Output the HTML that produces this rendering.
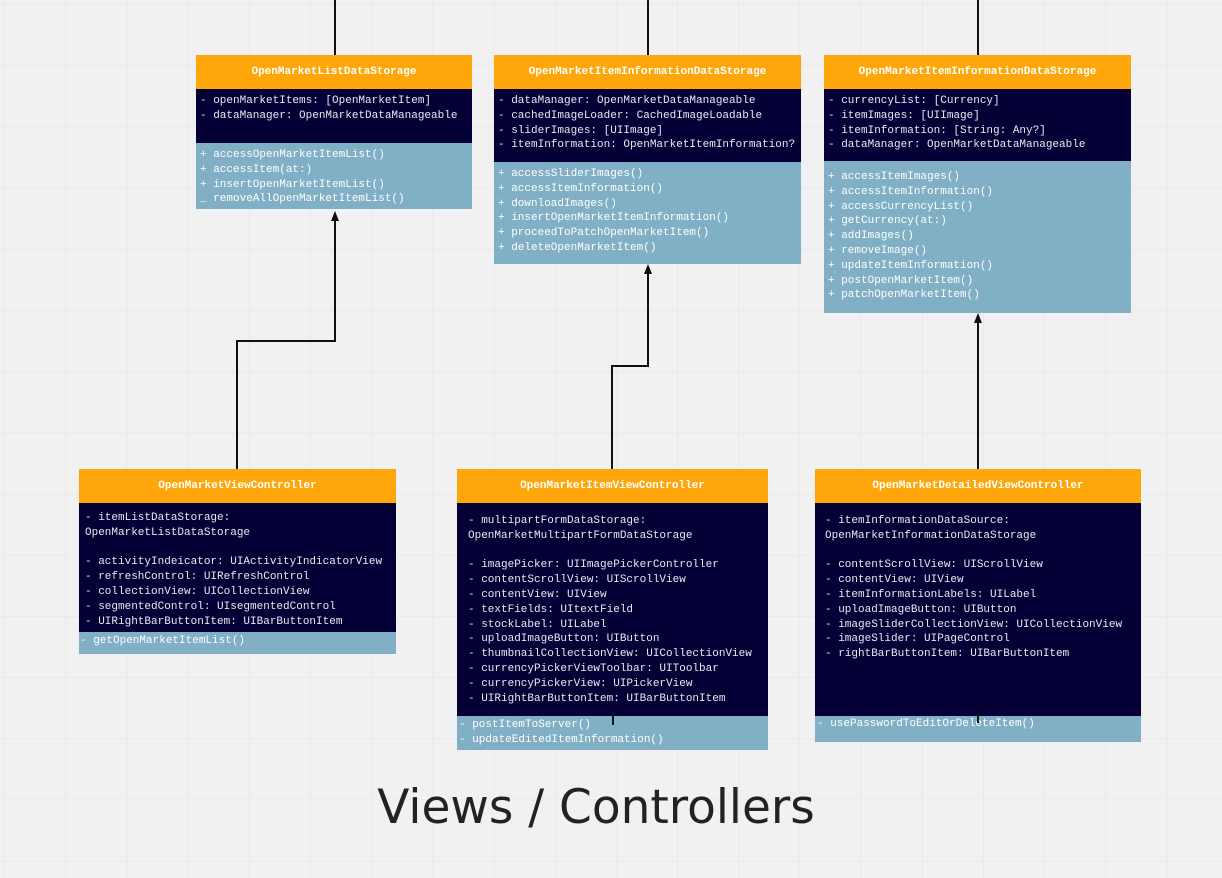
<!DOCTYPE html>
<html><head><meta charset="utf-8"><style>
body{margin:0;width:1222px;height:878px;overflow:hidden;background:#f1f1f1;
background-image:linear-gradient(to right,#e9e9e9 1px,transparent 1px),linear-gradient(to bottom,#e9e9e9 1px,transparent 1px);
background-size:61.2px 61.2px;background-position:4px 4px;position:relative;font-family:"Liberation Mono",monospace;}
.b{position:absolute;}
.h{background:#ffa60b;color:#fff;font-weight:bold;font-size:11px;text-align:center;height:34px;line-height:34px;}
.d{background:#040036;color:#e8e8f0;font-size:11px;line-height:14.8px;padding:5px 4px;box-sizing:border-box;white-space:pre;}
.l{background:#80afc6;color:#fff;font-size:11px;line-height:14.8px;padding:5px 4px;box-sizing:border-box;white-space:pre;}
.ln{position:absolute;background:#111;}
.ar{position:absolute;width:0;height:0;border-left:4px solid transparent;border-right:4px solid transparent;border-bottom:10px solid #111;}
.t{position:absolute;left:0;width:1192px;text-align:center;top:780px;font-family:"DejaVu Sans","Liberation Sans",sans-serif;font-size:47px;color:#222;}
</style></head><body>
<div class="ln" style="left:334px;top:0;width:2px;height:55px"></div>
<div class="ln" style="left:647px;top:0;width:2px;height:55px"></div>
<div class="ln" style="left:977px;top:0;width:2px;height:55px"></div>

<div class="ln" style="left:236px;top:340px;width:2px;height:129px"></div>
<div class="ln" style="left:236px;top:340px;width:100px;height:2px"></div>
<div class="ln" style="left:334px;top:220px;width:2px;height:122px"></div>
<div class="ar" style="left:331px;top:211px"></div>

<div class="ln" style="left:611px;top:365px;width:2px;height:104px"></div>
<div class="ln" style="left:611px;top:365px;width:38px;height:2px"></div>
<div class="ln" style="left:647px;top:272px;width:2px;height:95px"></div>
<div class="ar" style="left:644px;top:264px"></div>

<div class="ln" style="left:977px;top:322px;width:2px;height:147px"></div>
<div class="ar" style="left:974px;top:313px"></div>

<div class="b" style="left:196px;top:55px;width:276px">
<div class="h">OpenMarketListDataStorage</div>
<div class="d" style="height:54px">- openMarketItems: [OpenMarketItem]
- dataManager: OpenMarketDataManageable</div>
<div class="l" style="height:66px">+ accessOpenMarketItemList()
+ accessItem(at:)
+ insertOpenMarketItemList()
_ removeAllOpenMarketItemList()</div>
</div>

<div class="b" style="left:494px;top:55px;width:307px">
<div class="h">OpenMarketItemInformationDataStorage</div>
<div class="d" style="height:73px">- dataManager: OpenMarketDataManageable
- cachedImageLoader: CachedImageLoadable
- sliderImages: [UIImage]
- itemInformation: OpenMarketItemInformation?</div>
<div class="l" style="height:102px">+ accessSliderImages()
+ accessItemInformation()
+ downloadImages()
+ insertOpenMarketItemInformation()
+ proceedToPatchOpenMarketItem()
+ deleteOpenMarketItem()</div>
</div>

<div class="b" style="left:824px;top:55px;width:307px">
<div class="h">OpenMarketItemInformationDataStorage</div>
<div class="d" style="height:72px">- currencyList: [Currency]
- itemImages: [UIImage]
- itemInformation: [String: Any?]
- dataManager: OpenMarketDataManageable</div>
<div class="l" style="height:152px;padding-top:9px">+ accessItemImages()
+ accessItemInformation()
+ accessCurrencyList()
+ getCurrency(at:)
+ addImages()
+ removeImage()
+ updateItemInformation()
+ postOpenMarketItem()
+ patchOpenMarketItem()</div>
</div>

<div class="b" style="left:79px;top:469px;width:317px">
<div class="h">OpenMarketViewController</div>
<div class="d" style="height:129px;padding-top:8px;padding-left:6px">- itemListDataStorage:
OpenMarketListDataStorage

- activityIndeicator: UIActivityIndicatorView
- refreshControl: UIRefreshControl
- collectionView: UICollectionView
- segmentedControl: UIsegmentedControl
- UIRightBarButtonItem: UIBarButtonItem</div>
<div class="l" style="height:22px;padding:0 1px;line-height:18px">- getOpenMarketItemList()</div>
</div>

<div class="b" style="left:457px;top:469px;width:311px">
<div class="h">OpenMarketItemViewController</div>
<div class="d" style="height:213px;padding-top:11px;padding-left:11px">- multipartFormDataStorage:
OpenMarketMultipartFormDataStorage

- imagePicker: UIImagePickerController
- contentScrollView: UIScrollView
- contentView: UIView
- textFields: UItextField
- stockLabel: UILabel
- uploadImageButton: UIButton
- thumbnailCollectionView: UICollectionView
- currencyPickerViewToolbar: UIToolbar
- currencyPickerView: UIPickerView
- UIRightBarButtonItem: UIBarButtonItem</div>
<div class="l" style="height:34px;padding:2px 2px">- postItemToServer()
- updateEditedItemInformation()</div>
</div>

<div class="b" style="left:815px;top:469px;width:326px">
<div class="h">OpenMarketDetailedViewController</div>
<div class="d" style="height:213px;padding-top:11px;padding-left:10px">- itemInformationDataSource:
OpenMarketInformationDataStorage

- contentScrollView: UIScrollView
- contentView: UIView
- itemInformationLabels: UILabel
- uploadImageButton: UIButton
- imageSliderCollectionView: UICollectionView
- imageSlider: UIPageControl
- rightBarButtonItem: UIBarButtonItem</div>
<div class="l" style="height:26px;padding:1px 2px">- usePasswordToEditOrDeleteItem()</div>
</div>
<div class="ln" style="left:612px;top:713px;width:2px;height:12px"></div>
<div class="ln" style="left:977px;top:713px;width:2px;height:10px"></div>

<div class="t">Views / Controllers</div>
</body></html>
